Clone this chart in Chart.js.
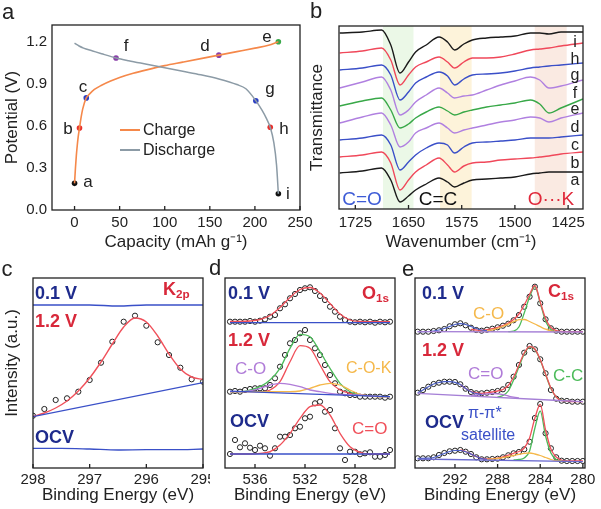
<!DOCTYPE html>
<html><head><meta charset="utf-8">
<script src="https://cdn.jsdelivr.net/npm/chart.js@4.4.0/dist/chart.umd.min.js"></script>
<style>
html,body{margin:0;padding:0;background:#fff;}
#wrap{position:relative;width:601px;height:509px;overflow:hidden;font-family:'Liberation Sans',Arial,sans-serif;color:#222;}
canvas{position:absolute;}
.c{position:absolute;transform:translate(-50%,-50%);white-space:nowrap;line-height:1;}
.l{position:absolute;transform:translate(0,-50%);white-space:nowrap;line-height:1;}
.pl{font-size:22px;}
.pt{font-size:17px;}
.bl{font-size:16px;}
.nv{color:#1e2b8c;font-weight:bold;font-size:18px;}
.rd{color:#d8283a;font-weight:bold;font-size:18px;}
.cmp{font-size:17px;}
sub{font-size:65%;vertical-align:-0.25em;}
</style></head><body>
<div id="wrap">
 <canvas id="ca" width="320" height="255" style="left:0px;top:0px"></canvas>
 <canvas id="cb" width="296" height="255" style="left:305px;top:0px"></canvas>
 <div style="position:absolute;left:0px;top:255px;width:210px;height:254px;overflow:hidden"><canvas id="cc" width="225" height="254" style="left:0px;top:0px"></canvas></div>
 <canvas id="cd" width="190" height="254" style="left:210px;top:255px"></canvas>
 <canvas id="ce" width="201" height="254" style="left:400px;top:255px"></canvas>

 <!-- panel letters -->
 <div class="c pl" style="left:8px;top:12px">a</div>
 <div class="c pl" style="left:316px;top:11px">b</div>
 <div class="c pl" style="left:7px;top:269px">c</div>
 <div class="c pl" style="left:215px;top:268px">d</div>
 <div class="c pl" style="left:408px;top:269px">e</div>

 <!-- panel a annotations -->
 <div class="c pt" style="left:88px;top:181px">a</div>
 <div class="c pt" style="left:68px;top:128px">b</div>
 <div class="c pt" style="left:83px;top:86px">c</div>
 <div class="c pt" style="left:126px;top:45px">f</div>
 <div class="c pt" style="left:205px;top:45px">d</div>
 <div class="c pt" style="left:267px;top:36px">e</div>
 <div class="c pt" style="left:270px;top:88px">g</div>
 <div class="c pt" style="left:284px;top:128px">h</div>
 <div class="c pt" style="left:288px;top:193px">i</div>
 <div style="position:absolute;left:120px;top:129px;width:20px;height:2px;background:#f5884a"></div>
 <div class="l" style="left:143px;top:130px;font-size:16px">Charge</div>
 <div style="position:absolute;left:120px;top:149px;width:20px;height:2px;background:#8c9ba6"></div>
 <div class="l" style="left:143px;top:150px;font-size:16px">Discharge</div>

 <!-- panel b annotations -->
 <div class="c bl" style="left:575px;top:42px">i</div>
 <div class="c bl" style="left:575px;top:59px">h</div>
 <div class="c bl" style="left:575px;top:75px">g</div>
 <div class="c bl" style="left:575px;top:93px">f</div>
 <div class="c bl" style="left:575px;top:109px">e</div>
 <div class="c bl" style="left:575px;top:127px">d</div>
 <div class="c bl" style="left:575px;top:145px">c</div>
 <div class="c bl" style="left:575px;top:163px">b</div>
 <div class="c bl" style="left:575px;top:180px">a</div>
 <div class="c" style="left:362px;top:198px;font-size:19px;color:#3d5bd6">C=O</div>
 <div class="c" style="left:438px;top:198px;font-size:19px;color:#111">C=C</div>
 <div class="c" style="left:551px;top:198px;font-size:19px;color:#e0283a">O···K</div>

 <!-- panel c annotations -->
 <div class="c" style="left:11px;top:363px;font-size:17px;transform:translate(-50%,-50%) rotate(-90deg)">Intensity (a.u.)</div>
 <div class="l nv" style="left:35px;top:293px">0.1 V</div>
 <div class="l rd" style="left:163px;top:290px">K<sub>2p</sub></div>
 <div class="l rd" style="left:35px;top:321px">1.2 V</div>
 <div class="l nv" style="left:35px;top:437px">OCV</div>

 <!-- panel d annotations -->
 <div class="l nv" style="left:228px;top:293px">0.1 V</div>
 <div class="l rd" style="left:362px;top:294px">O<sub>1s</sub></div>
 <div class="l rd" style="left:228px;top:340px">1.2 V</div>
 <div class="l cmp" style="left:235px;top:368px;color:#b07cd8">C-O</div>
 <div class="l" style="left:346px;top:368px;font-size:16px;color:#f5b84a">C-O-K</div>
 <div class="l nv" style="left:230px;top:421px">OCV</div>
 <div class="l cmp" style="left:352px;top:428px;color:#f0505a">C=O</div>

 <!-- panel e annotations -->
 <div class="l nv" style="left:422px;top:293px">0.1 V</div>
 <div class="l rd" style="left:548px;top:292px">C<sub>1s</sub></div>
 <div class="l cmp" style="left:473px;top:313px;color:#f5b84a">C-O</div>
 <div class="l rd" style="left:422px;top:350px">1.2 V</div>
 <div class="l cmp" style="left:468px;top:373px;color:#b07cd8">C=O</div>
 <div class="l cmp" style="left:553px;top:375px;color:#4cbb5a">C-C</div>
 <div class="l nv" style="left:425px;top:422px">OCV</div>
 <div class="l" style="left:468px;top:413px;font-size:16px;color:#3a50c8">π-π*</div>
 <div class="l" style="left:461px;top:435px;font-size:16px;color:#3a50c8">satellite</div>
</div>
<script>
// ---------- Panel a data ----------
const chargeCap = [0,1,2,3,4,5.5,7,9,13,17,22,30,40,50,65,80,100,120,140,160,180,200,215,226];
const chargeV   = [0.19,0.30,0.39,0.46,0.52,0.585,0.65,0.72,0.80,0.83,0.86,0.89,0.92,0.945,0.975,1.00,1.03,1.055,1.08,1.105,1.13,1.155,1.175,1.20];
const dischCap  = [0,5,10,20,30,46,60,80,100,120,140,160,180,190,201,208,213,217,221,224,226];
const dischV    = [1.19,1.17,1.155,1.135,1.115,1.085,1.065,1.04,1.015,0.99,0.965,0.935,0.895,0.865,0.78,0.71,0.65,0.59,0.48,0.32,0.116];
const markNames = ['a','b','c','d','e','f','g','h','i'];
const markCap   = [0,5.5,13,160,226,46,201,217,226];
const markV     = [0.19,0.585,0.80,1.105,1.20,1.085,0.78,0.59,0.116];
const aXTicks = [0,50,100,150,200,250];
const aYTicks = [0,0.3,0.6,0.9,1.2];

// ---------- Panel b data (offset transmittance, arb.) ----------
const wn = [1747,1715,1688,1675,1662,1650,1640,1625,1607,1595,1585,1572,1560,1540,1520,1500,1478,1465,1452,1435,1404];
const spec_i = [176,177,179,164,136,147,157,164,172,167,159,165,169,171,172,173,176,176,175,177,177];
const spec_h = [156,158,161,149,124,134,142,147,152,147,141,147,151,151,152,155,159,160,161,163,166];
const spec_g = [139,141,144,134,109,117,126,132,137,133,124,130,134,135,136,138,141,142,143,144,146];
const spec_f = [121,127,132,119,94,99,107,114,121,116,111,113,114,119,124,128,132,129,121,123,129];
const spec_e = [103,108,111,99,81,85,91,97,102,98,94,97,99,102,104,106,109,105,96,101,110];
const spec_d = [86,92,96,84,62,67,76,81,86,81,76,79,81,84,87,89,92,91,87,91,96];
const spec_c = [69,71,74,64,39,47,54,61,66,64,56,62,66,67,68,69,71,71,71,72,74];
const spec_b = [52,54,57,46,19,29,37,44,51,44,37,43,46,47,49,50,51,52,53,55,57];
const spec_a = [36,38,41,29,7,13,19,25,31,27,22,26,29,30,31,32,35,36,37,37,37];
const bXTicks = [1725,1650,1575,1500,1425];
const bandCO = [1686,1643], bandCC = [1605.5,1561], bandOK = [1472,1427];

// ---------- Panel c data (K2p) ----------
const eC = [298,297.8,297.6,297.4,297.2,297,296.8,296.6,296.4,296.2,296,295.8,295.6,295.4,295.2,295];
const c12Data = [52.3,59,68,69.7,76.3,88,105.3,126.3,146.3,152.3,142.3,125.7,113,100.3,88.7,86.3];
const c12Fit  = [51.5,55,60,67,77,90,106,124,141,150,146,132,114,99,91,88.5];
const cBaseE = [298,295], cBase = [51.3,85.3];
const eCline = [298,297.5,297,296.5,296,295.5,295];
const c01Line = [163,163,163,162,163,163,163];
const cOCVLine = [19.7,19.7,19,18,18.3,18.3,19];
const cXTicks = [298,297,296,295];

// ---------- Panel d data (O1s) ----------
const eD = [538,537.6,537.2,536.8,536.4,536,535.6,535.2,534.8,534.4,534,533.6,533.2,532.8,532.4,532,531.6,531.2,530.8,530.4,530,529.6,529.2,528.8,528.4,528,527.6,527.2,526.8,526.4,526,525.6,525.2];
const eDfit = [538,537.2,536.4,535.6,534.8,534,533.2,532.4,531.6,530.8,530,529.2,528.4,527.6,526.8,526,525.2];
const d01Data = [146.3,146.3,146.3,146.3,147,146.3,147.3,148.7,151.3,153,159.7,163.7,169.7,174,178,179.7,180.7,177,172,168,161.3,156.3,151.3,148,146.3,145.7,146.3,145.7,146.3,145.3,146.3,145.7,146.3];
const d01Fit  = [146.5,146.5,147,148.5,152.5,160.5,170.5,178.5,180.5,175,164.5,154,148,146.5,146.3,146.3,146.3];
const d12Data = [76.3,77,76.3,78,79,79.7,79.7,79.7,83,89.7,101.3,113,124.7,128,134.7,138,128,119.7,113,103,93,84.7,76.3,74.7,73,73,71.3,71.3,71.3,71.3,71.3,70.3,71.3];
const d12Env  = [76.3,76.3,78,81.3,88,99.7,119.7,133.7,131.3,116.3,99.7,84.7,76.3,73,72,71.3,71.3];
const d12CO_main = [76.3,76.3,76.3,76.3,78,86.3,106.3,122.3,119.7,103,86.3,78,74.7,73,72,71.3,71.3];
const d12C_O  = [76.3,76.3,77,79.7,83,84.7,83.7,81.3,78,76.3,74.7,73.7,73,73,72,71.3,71.3];
const d12COK  = [76.3,76.3,76.3,76.3,76.3,76.3,76.3,77,79.7,83,84.7,83,78,73.7,72,71.3,71.3];
const dOCVData = [14,28,20.7,24.7,20.3,18,22.3,19.7,12.3,19.7,31.3,31.3,33,39.7,41.3,49.7,51.3,64.7,66.3,56.3,58,39.7,19.7,8,16.3,16.3,13.7,14.7,15.7,11.3,11.3,13,18];
const dOCVFit  = [14,14,14,14.7,16.3,23,34.7,49.7,61.3,63,53,34.7,21.3,15.7,14,14,14];
const dBaseE = [538,525.2];
const d01Base = [145.3,145.3], d12Base = [76.8,71.3], dOCVBase = [14,14];
const dXTicks = [536,532,528];

// ---------- Panel e data (C1s) ----------
const eE = [295.5,295,294.5,294,293.5,293,292.5,292,291.5,291,290.5,290,289.5,289,288.5,288,287.5,287,286.5,286,285.5,285,284.5,284,283.5,283,282.5,282,281.5,281,280.5,280];
const N = null;
const e01Data = [136.3,136.3,136.3,137,137.7,139,141.7,143.7,144.7,142.7,140.3,138,137.3,138.3,139.3,140.7,142.3,144.3,147.7,153,161.3,171.3,181.3,164.7,148.7,139.7,137.3,136.3,136.3,136.3,136.3,136.3];
const e01Env  = [N,N,N,N,N,N,N,N,N,N,138.5,138,137.7,138.3,139.3,140.7,142.5,145,148.5,154,163,173.5,182.5,166,149.5,140.5,137.5,136.5,136.3,136.3,136.3,136.3];
const e01CC   = [N,N,N,N,N,N,N,N,N,N,N,N,N,N,N,N,N,136.3,137,141,155,171,181.5,165,147,138.5,136.5,136.3,N,N,N,N];
const e01CO   = [N,N,N,N,N,N,N,N,N,N,N,136.3,136.6,137.2,138.2,139.6,141.5,143.8,146.3,148.3,148.5,146.5,144,141.3,138.8,137.2,136.4,N,N,N,N,N];
const e01Sat  = [136.3,136.3,136.5,137,138,139.5,141.5,143.5,144.3,143.5,141.5,139.5,138,137.3,N,N,N,N,N,N,N,N,N,N,N,N,N,N,N,N,N,N];
const e12Data = [75.3,78,81.3,84,85.3,86.3,86.3,86,83.7,79.3,76,74.7,74.7,75.3,76,77,78.7,83,91.3,103,115.3,122,118.7,108.7,94.7,78,69.3,67.3,67,66.3,66.3,66.3];
const e12Env  = [N,N,N,N,N,N,N,N,83.5,79.5,76.5,75,74.7,75.2,76,77,78.5,82.5,91,103,115,121.5,119,108.5,94,80,71,67.5,67,66.5,66.3,66.3];
const e12CC   = [N,N,N,N,N,N,N,N,N,N,N,N,N,N,N,71,72.5,77,88,101,114,121,118.5,108,93.5,79.5,71,68,67,N,N,N];
const e12CO   = [N,N,N,N,N,N,N,N,N,N,72.5,73,73.6,74.2,74.5,74.2,73.3,72,70.8,70,N,N,N,N,N,N,N,N,N,N,N,N];
const e12Sat  = [75.3,78,81.3,84,85.5,86.3,86.3,85.7,83.5,79.5,76.3,74.5,73.5,N,N,N,N,N,N,N,N,N,N,N,N,N,N,N,N,N,N,N];
const eOCVData = [9.7,9.7,9.7,10.7,13,15,16.7,17.3,18,16.3,14,10.7,8.7,8.7,9,9.3,10.7,12.7,14.7,16,18.7,26.3,50,64,34.7,19.7,10.7,7.3,7,7,7,7];
const eOCVEnv  = [N,N,N,N,N,N,N,N,18,16.5,14,11.5,9.5,9,9.2,9.8,11,12.8,14.7,16.5,20,30,50,63.5,38,19,11,8,7,7,7,7];
const eOCVCC   = [N,N,N,N,N,N,N,N,N,N,N,N,N,N,N,N,N,N,8,8.5,10,17,40,57,32,15,8.5,7.2,7,N,N,N];
const eOCVCO   = [N,N,N,N,N,N,N,N,N,N,N,N,N,8.5,9,9.5,10.3,11.3,12.5,13.7,14.7,15,14,12.5,10.5,8.5,7.3,7,N,N,N,N];
const eOCVSat  = [9.7,9.7,9.8,10.5,12.5,14.5,16.5,17.5,17.5,16.3,14,11.5,9.5,8.7,N,N,N,N,N,N,N,N,N,N,N,N,N,N,N,N,N,N];
const eBaseE = [295.5,280];
const e01Base = [136.3,136.0], e12Base = [74.7,66.3], eOCVBase = [9,6.3];
const eXTicks = [292,288,284,280];

// ---------- helpers ----------
Chart.defaults.font.family = "'Liberation Sans', Arial, sans-serif";
Chart.defaults.color = '#222';

const pts = (xs, ys) => xs.map((x, i) => ({x: x, y: ys[i]}));
function line(xs, ys, color, w) {
  return {data: pts(xs, ys), borderColor: color, backgroundColor: color, borderWidth: w || 1.3,
          pointRadius: 0, fill: false, cubicInterpolationMode: 'monotone', spanGaps: false, showLine: true};
}
function circ(xs, ys) {
  return {data: pts(xs, ys), showLine: false, pointStyle: 'circle', pointRadius: 2.6,
          pointBorderWidth: 1, pointBorderColor: '#222', pointBackgroundColor: 'rgba(255,255,255,0)'};
}

const framePlugin = {
  id: 'frame',
  beforeDatasetsDraw(chart, args, o) {
    const {ctx, chartArea: ca} = chart; const x = chart.scales.x;
    (o.bands || []).forEach(b => {
      const p1 = x.getPixelForValue(b.range[0]), p2 = x.getPixelForValue(b.range[1]);
      ctx.save(); ctx.fillStyle = b.color;
      ctx.fillRect(Math.min(p1, p2), ca.top, Math.abs(p2 - p1), ca.bottom - ca.top);
      ctx.restore();
    });
  },
  afterDatasetsDraw(chart, args, o) {
    const {ctx, chartArea: ca} = chart; const x = chart.scales.x;
    ctx.save();
    ctx.strokeStyle = '#222'; ctx.lineWidth = 1.3;
    ctx.strokeRect(ca.left, ca.top, ca.right - ca.left, ca.bottom - ca.top);
    ctx.beginPath();
    x.ticks.forEach(t => { const p = x.getPixelForValue(t.value); ctx.moveTo(p, ca.bottom); ctx.lineTo(p, ca.bottom - 4); });
    ctx.stroke();
    ctx.restore();
  }
};

function xAxis(min, max, reverse, tickVals, title, h, tickPad, titlePad) {
  return {type: 'linear', min: min, max: max, reverse: reverse,
    afterBuildTicks: s => { s.ticks = tickVals.map(v => ({value: v})); },
    afterFit: s => { s.height = h; },
    grid: {display: false, drawTicks: false}, border: {display: false},
    ticks: {font: {size: 15}, color: '#222', padding: tickPad, maxRotation: 0, autoSkip: false, callback: v => String(v)},
    title: {display: true, text: title, font: {size: 17}, color: '#222', padding: {top: 0, bottom: titlePad}}};
}
function hiddenY(min, max) { return {type: 'linear', min: min, max: max, display: false}; }
function opts(pad, scales, frame) {
  return {responsive: false, animation: false, devicePixelRatio: 1, events: [],
    layout: {padding: pad},
    plugins: {legend: {display: false}, tooltip: {enabled: false}, frame: frame || {}},
    scales: scales};
}

// ---------- Panel a ----------
new Chart(document.getElementById('ca'), {
  type: 'line',
  data: {datasets: [
    line(dischCap, dischV, '#8c9ba6', 1.5),
    line(chargeCap, chargeV, '#f5884a', 1.6),
    {data: pts(markCap, markV), showLine: false, pointRadius: 2.8, pointBorderWidth: 0,
     pointBackgroundColor: ['#111','#e8302c','#2c3fc4','#8a3fa8','#3aa84a','#8a3fa8','#2c3fc4','#e8302c','#111']}
  ]},
  options: opts({left: 0, top: 25, right: 20, bottom: 0}, {
    x: xAxis(-25, 250, false, aXTicks, 'Capacity (mAh g⁻¹)', 45, 4, 2.8),
    y: {type: 'linear', min: 0, max: 1.32,
      afterBuildTicks: s => { s.ticks = aYTicks.map(v => ({value: v})); },
      afterFit: s => { s.width = 52; },
      grid: {display: false, drawTicks: false}, border: {display: false},
      ticks: {font: {size: 15}, color: '#222', padding: 5, callback: v => v.toFixed(1)},
      title: {display: true, text: 'Potential (V)', font: {size: 17}, color: '#222', padding: {top: 2}}}
  }),
  plugins: [framePlugin]
});

// ---------- Panel b ----------
const bCols = ['#1a1a1a','#f0485a','#3a4fc8','#b080e0','#38a848','#b080e0','#3a4fc8','#f0485a','#1a1a1a'];
const bSeries = [spec_i, spec_h, spec_g, spec_f, spec_e, spec_d, spec_c, spec_b, spec_a];
new Chart(document.getElementById('cb'), {
  type: 'line',
  data: {datasets: bSeries.map((s, k) => line(wn, s, bCols[k], 1.4))},
  options: opts({left: 0, top: 26, right: 18, bottom: 0}, {
    x: xAxis(1404, 1748, true, bXTicks, 'Wavenumber (cm⁻¹)', 46, 5, 2),
    y: {type: 'linear', min: 0, max: 183,
      afterFit: s => { s.width = 34; },
      grid: {display: false, drawTicks: false}, border: {display: false},
      ticks: {display: false},
      title: {display: true, text: 'Transmittance', font: {size: 17}, color: '#222', padding: {top: 2.3}}}
  }, {bands: [{range: bandCO, color: '#ebf8e7'}, {range: bandCC, color: '#fdf3da'}, {range: bandOK, color: '#faeae2'}]}),
  plugins: [framePlugin]
});

// ---------- Panel c ----------
new Chart(document.getElementById('cc'), {
  type: 'line',
  data: {datasets: [
    line(eCline, c01Line, '#3a50c8', 1.3),
    line(eCline, cOCVLine, '#3a50c8', 1.3),
    line(cBaseE, cBase, '#3a50c8', 1.3),
    line(eC, c12Fit, '#f0505a', 1.4),
    circ(eC, c12Data)
  ]},
  options: opts({left: 33, top: 23, right: 22, bottom: 0}, {
    x: xAxis(295, 298, true, cXTicks, 'Binding Energy (eV)', 41, 3, 3.8),
    y: hiddenY(0, 190)
  }),
  plugins: [framePlugin]
});

// ---------- Panel d ----------
new Chart(document.getElementById('cd'), {
  type: 'line',
  data: {datasets: [
    line(dBaseE, d01Base, '#3a50c8', 1.3),
    line(dBaseE, d12Base, '#3a50c8', 1.3),
    line(dBaseE, dOCVBase, '#3a50c8', 1.3),
    line(eDfit, d12C_O, '#b07cd8', 1.3),
    line(eDfit, d12COK, '#f5b84a', 1.3),
    line(eDfit, d12Env, '#4cbb5a', 1.3),
    line(eDfit, d12CO_main, '#f0505a', 1.3),
    line(eDfit, d01Fit, '#f0505a', 1.3),
    line(eDfit, dOCVFit, '#f0505a', 1.3),
    circ(eD, d01Data),
    circ(eD, d12Data),
    circ(eD, dOCVData)
  ]},
  options: opts({left: 15, top: 23, right: 5, bottom: 0}, {
    x: xAxis(524.8, 538.4, true, dXTicks, 'Binding Energy (eV)', 41, 3, 3.8),
    y: hiddenY(0, 190)
  }),
  plugins: [framePlugin]
});

// ---------- Panel e ----------
new Chart(document.getElementById('ce'), {
  type: 'line',
  data: {datasets: [
    line(eBaseE, e01Base, '#a57fd6', 1.3),
    line(eBaseE, e12Base, '#a57fd6', 1.3),
    line(eBaseE, eOCVBase, '#6a6ad0', 1.3),
    line(eE, e01Sat, '#4a5fc8', 1.2),
    line(eE, e12Sat, '#4a5fc8', 1.2),
    line(eE, eOCVSat, '#4a5fc8', 1.2),
    line(eE, e01CO, '#f5b84a', 1.3),
    line(eE, e12CO, '#b07cd8', 1.3),
    line(eE, eOCVCO, '#f5b84a', 1.3),
    line(eE, e01Env, '#f0505a', 1.3),
    line(eE, e12Env, '#f0505a', 1.3),
    line(eE, eOCVEnv, '#f0505a', 1.3),
    line(eE, e01CC, '#4cbb5a', 1.3),
    line(eE, e12CC, '#4cbb5a', 1.3),
    line(eE, eOCVCC, '#4cbb5a', 1.3),
    circ(eE, e01Data),
    circ(eE, e12Data),
    circ(eE, eOCVData)
  ]},
  options: opts({left: 15, top: 23, right: 16, bottom: 0}, {
    x: xAxis(279.8, 295.75, true, eXTicks, 'Binding Energy (eV)', 41, 3, 3.8),
    y: hiddenY(0, 190)
  }),
  plugins: [framePlugin]
});
</script>
</body></html>
